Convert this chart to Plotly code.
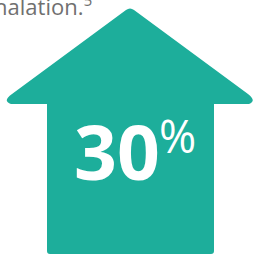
import plotly.graph_objects as go

# Data
stat_value = [30]
stat_unit = ["%"]
caption_text = ["inhalation."]
caption_ref = ["5"]

TEAL = "#1DAE9B"
GRAY = "#707070"

W, H = 254, 255

fig = go.Figure()

# Arrow (up) shape
arrow_path = (
    "M 126,10 Q 130,7 134,10 "
    "L 248,94 Q 257,101 249,104 "
    "L 214,104 L 214,251 Q 214,254 211,254 "
    "L 50,254 Q 47,254 47,251 L 47,104 "
    "L 11,104 Q 2,101 12,94 Z"
)
fig.add_shape(type="path", path=arrow_path, xref="x", yref="y",
              fillcolor=TEAL, line=dict(width=0), layer="below")

fig.add_annotation(x=162, y=151, xref="x", yref="y",
                   text=f"<b>{stat_value[0]}</b>", showarrow=False,
                   xanchor="right", yanchor="middle",
                   font=dict(family="Open Sans", size=75, color="white"))
fig.add_annotation(x=157, y=135, xref="x", yref="y",
                   text=stat_unit[0], showarrow=False,
                   xanchor="left", yanchor="middle",
                   font=dict(family="Open Sans", size=45, color="white"))

fig.add_annotation(x=94, y=5, xref="x", yref="y",
                   text=f"{caption_text[0]}<sup>{caption_ref[0]}</sup>",
                   showarrow=False, xanchor="right", yanchor="middle",
                   font=dict(family="Open Sans", size=22, color=GRAY))

fig.update_xaxes(range=[0, W], visible=False, fixedrange=True)
fig.update_yaxes(range=[H, 0], visible=False, fixedrange=True)
fig.update_layout(width=W, height=H, margin=dict(l=0, r=0, t=0, b=0),
                  paper_bgcolor="white", plot_bgcolor="white",
                  showlegend=False)

fig.write_html("out.html", config={"displayModeBar": False},
               post_script="document.body.style.margin='0';document.body.style.overflow='hidden';")
